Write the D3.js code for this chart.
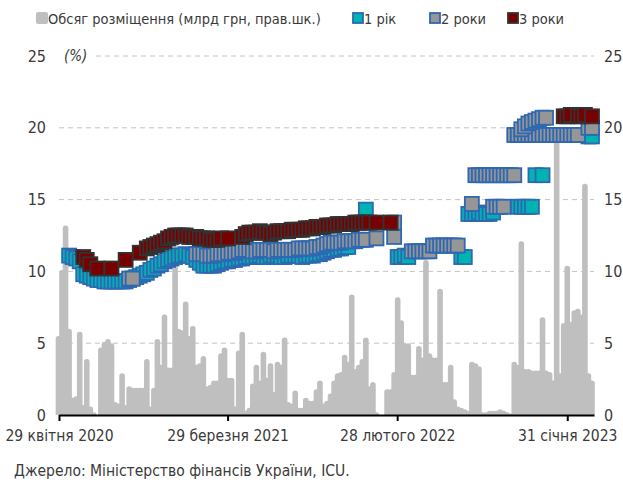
<!DOCTYPE html>
<html>
<head>
<meta charset="utf-8">
<script src="https://cdn.jsdelivr.net/npm/d3@7"></script>
<style>
  body { margin: 0; background: #fff; }
  text { font-family: "Liberation Sans Narrow", "Arial Narrow", "DejaVu Sans Condensed", sans-serif; fill: #3a3a3a; }
</style>
</head>
<body>
<svg id="chart" width="623" height="482"></svg>
<script>
// auctions are weekly (Tuesdays); week 0 = 28 Apr 2020
var firstAuction = new Date(2020, 3, 28)

var xTickDates = ["2020-04-29", "2021-03-29", "2022-02-28", "2023-01-31"]
var xTickLabels = ["29 квітня 2020", "29 березня 2021", "28 лютого 2022", "31 січня 2023"]
var yTicks = [0, 5, 10, 15, 20, 25]

// placement volume, bn UAH (right axis), one value per week, null = no bar
var volume = [
  5.5, 10.1, 13.2, 6.0, 1.2, 1.3, 5.8, 0.7, 3.9, 0.6,
  0.2, null, 4.7, 5.1, 5.3, 5.0, 0.9, 0.8, 2.9, 0.7,
  2.0, 1.9, 1.9, 1.9, 1.9, 3.9, 0.6, 1.9, 5.3, 3.5,
  7.0, 3.3, 3.3, 12.3, 6.0, 5.9, 7.9, 5.5, 6.2, 3.5,
  3.6, 4.1, 2.0, 2.1, 2.4, 2.4, 4.3, 4.7, 2.6, 2.6,
  0.6, 4.5, 5.8, 0.3, 0.5, 2.2, 3.5, 2.4, 4.4, 2.6,
  3.6, 1.6, 3.7, 3.5, 5.4, 0.9, 0.8, 1.7, 0.5, 0.5,
  1.2, 1.0, 1.0, 1.8, 2.4, 0.8, 1.0, 1.5, 2.4, 2.9,
  3.0, 4.2, 3.7, 8.4, 3.2, 3.5, 3.9, 5.4, 2.0, 2.3,
  0.2, null, null, 1.8, 1.8, 3.0, 8.2, 6.6, 5.0, 5.0,
  2.8, 2.8, 4.8, 4.0, 10.8, 4.3, 4.0, 4.0, 8.8, 2.3,
  2.3, 3.5, 1.1, 0.6, 0.5, 0.4, 0.3, 3.7, 3.6, 3.4,
  0.2, 0.2, 0.3, 0.3, 0.3, 0.4, 0.3, 0.2, 0.1, 3.7,
  3.5, 12.1, 3.2, 3.2, 3.1, 3.1, 3.1, 6.8, 3.1, 3.0,
  2.4, 19.8, 2.9, 6.4, 10.4, 6.5, 7.3, 7.4, 7.0, 16.1,
  2.9, 2.4
]

// yields, % (left axis)
var oneYearWeek = [
  3, 4, 5, 6, 7, 8, 9, 10, 11, 12, 13, 14, 15, 16, 17, 18, 19,
  20, 21, 22, 23, 24, 25, 26, 27, 28, 29, 30, 31, 32,
  33, 34, 35, 36, 37, 38, 39, 40, 41, 42, 43, 44, 45, 46, 47, 48, 49, 50, 51, 52,
  53, 54, 55, 56, 57, 58, 59, 60, 61, 62, 63, 64, 65, 66, 67, 68, 69, 70, 71, 72, 73, 74,
  75, 76, 77, 78, 79, 80, 81, 82,
  87, 96, 97, 98, 99, 114, 115,
  116, 117, 118, 119, 120, 121, 122, 123,
  130, 131, 132, 133, 134, 135, 137, 150, 151
]
var oneYearYield = [
  11.1, 11.0, 10.9, 10.7, 9.8, 9.7, 9.6, 9.5, 9.4, 9.4, 9.3, 9.3, 9.3, 9.3, 9.3, 9.3, 9.3,
  9.4, 9.5, 9.6, 9.7, 9.8, 9.9, 10.1, 10.2, 10.4, 10.5, 10.7, 10.8, 10.9,
  11.0, 11.1, 11.1, 11.2, 11.1, 11.0, 10.8, 10.6, 10.4, 10.4, 10.4, 10.4, 10.5, 10.6, 10.7, 10.7, 10.8, 10.8, 10.9, 10.9,
  11.0, 11.0, 11.0, 11.1, 11.1, 11.0, 11.0, 11.1, 11.1, 11.1, 11.0, 11.0, 11.1, 11.1, 11.1, 11.1, 11.0, 11.1, 11.1, 11.1, 11.2, 11.2,
  11.3, 11.4, 11.5, 11.5, 11.6, 11.6, 11.7, 11.7,
  14.3, 11.0, 11.0, 11.1, 11.0, 11.0, 11.0,
  14.0, 14.0, 14.0, 14.1, 14.0, 14.0, 14.0, 14.1,
  14.5, 14.5, 14.5, 14.5, 14.5, 16.7, 16.7, 19.4, 19.4
]

var twoYearWeek = [
  20, 21,
  39, 40, 41, 42, 43, 44, 45, 46, 47, 48, 49, 50,
  51, 52, 53, 54, 55, 56, 57, 58, 59, 60, 61, 62, 63, 64, 65, 66, 67, 68, 69, 70, 71, 72, 73, 74, 75,
  76, 77, 78, 79, 80, 81, 82, 83, 84, 85, 86, 87, 90, 95, 95,
  100, 101, 102, 103, 104, 105, 106, 107, 108, 109, 110, 111, 112, 113,
  117, 118, 119, 120, 121, 122, 123, 124, 125, 126, 127, 128, 129,
  123, 124, 125, 126,
  129, 130, 131, 132, 133, 134, 135, 136, 137, 138, 139, 140, 141, 142, 143, 144, 145, 146, 147,
  131, 132, 133, 134, 135, 136, 137, 138, 150, 151
]
var twoYearYield = [
  9.5, 9.5,
  11.2, 11.2, 11.2, 11.1, 11.1, 11.1, 11.2, 11.2, 11.2, 11.3, 11.3, 11.3,
  11.4, 11.5, 11.5, 11.5, 11.4, 11.4, 11.5, 11.5, 11.5, 11.5, 11.4, 11.5, 11.5, 11.5, 11.5, 11.5, 11.5, 11.6, 11.6, 11.6, 11.6, 11.6, 11.7, 11.7, 11.8,
  11.9, 12.0, 12.0, 12.0, 12.0, 12.1, 12.1, 12.1, 12.1, 12.2, 12.2, 12.2, 12.3, 12.4, 13.4,
  11.4, 11.4, 11.4, 11.4, 11.4, 11.4, 11.8, 11.8, 11.8, 11.8, 11.8, 11.8, 11.8, 11.8,
  14.7, 16.7, 16.7, 16.7, 16.7, 16.7, 16.7, 16.7, 16.7, 16.7, 16.7, 16.7, 16.7,
  14.5, 14.5, 14.5, 14.5,
  19.5, 19.5, 19.5, 19.5, 19.5, 19.5, 19.5, 19.5, 19.5, 19.5, 19.5, 19.5, 19.5, 19.5, 19.5, 19.5, 19.5, 19.5, 19.5,
  19.9, 20.1, 20.3, 20.4, 20.5, 20.6, 20.7, 20.7, 20.0, 20.0
]

var threeYearWeek = [
  7, 8, 9, 11, 15, 19, 23,
  25, 26, 27, 28, 29, 30, 31, 32, 33, 34, 35, 36, 37, 38, 39, 40, 41, 42, 43, 44, 45, 46, 48, 52,
  53, 54, 55, 56, 57, 58, 59, 60, 61, 62, 63, 64, 65, 66, 67, 68,
  69, 70, 71, 72, 73, 74, 75, 76, 77, 78, 79, 80, 81, 82, 83, 84, 85, 86, 87, 88, 90, 94,
  143, 144, 145, 147, 148, 149, 151
]
var threeYearYield = [
  11.0, 10.8, 10.5, 10.2, 10.2, 10.8, 11.3,
  11.6, 11.7, 11.8, 11.9, 12.0, 12.1, 12.3, 12.4, 12.5, 12.5, 12.5, 12.5, 12.4, 12.4, 12.4, 12.3, 12.3, 12.3, 12.2, 12.2, 12.2, 12.3, 12.3, 12.4,
  12.6, 12.7, 12.7, 12.7, 12.8, 12.7, 12.7, 12.6, 12.7, 12.8, 12.8, 12.8, 12.8, 12.9, 12.9, 12.9,
  12.9, 13.0, 13.0, 13.0, 13.1, 13.1, 13.1, 13.2, 13.2, 13.2, 13.3, 13.3, 13.3, 13.3, 13.3, 13.4, 13.4, 13.4, 13.4, 13.4, 13.4, 13.4,
  20.8, 20.8, 20.9, 20.8, 20.8, 20.9, 20.8
]

var legendLabels = ["Обсяг розміщення (млрд грн, прав.шк.)", "1 рік", "2 роки", "3 роки"]

var weekDate = function(w) { return d3.timeDay.offset(firstAuction, 7 * w) }
var parse = d3.timeParse("%Y-%m-%d")

var svg = d3.select("#chart")
var plotLeft = 59, plotRight = 594, plotTop = 56, plotBottom = 415

var x = d3.scaleTime()
  .domain([parse("2020-04-29"), parse("2023-03-25")])
  .range([plotLeft, plotRight])
var y = d3.scaleLinear().domain([0, 25]).range([plotBottom, plotTop])
var y2 = d3.scaleLinear().domain([0, 25]).range([plotBottom, plotTop])

// gridlines
svg.append("g").selectAll("line")
  .data(yTicks.slice(1))
  .enter().append("line")
  .attr("x1", function(d) { return d == 25 ? 96 : plotLeft })
  .attr("x2", plotRight)
  .attr("y1", function(d) { return y(d) })
  .attr("y2", function(d) { return y(d) })
  .attr("stroke", "#c4c4c4")
  .attr("stroke-width", 1)
  .attr("stroke-dasharray", "5,4")

// volume bars with rounded tops
svg.append("clipPath").attr("id", "plotclip")
  .append("rect").attr("x", 0).attr("y", 0).attr("width", 623).attr("height", plotBottom)

var bars = volume.map(function(v, i) { return { date: weekDate(i), v: v } })
  .filter(function(d) { return d.v != null })

var bw = 5.6
svg.append("g").attr("clip-path", "url(#plotclip)")
  .selectAll("line")
  .data(bars)
  .enter().append("line")
  .attr("x1", function(d) { return x(d.date) })
  .attr("x2", function(d) { return x(d.date) })
  .attr("y1", plotBottom + 4)
  .attr("y2", function(d) { return Math.min(y2(d.v) + bw / 2, plotBottom + 2) })
  .attr("stroke", "#bfbfbf")
  .attr("stroke-width", bw)
  .attr("stroke-linecap", "round")

// yield markers
var series = [
  { weeks: oneYearWeek, vals: oneYearYield, fill: "#00b3b3", stroke: "#2e68b2" },
  { weeks: twoYearWeek, vals: twoYearYield, fill: "#969696", stroke: "#2e68b2" },
  { weeks: threeYearWeek, vals: threeYearYield, fill: "#790000", stroke: "#333333" }
]
var ms = 14

series.forEach(function(s) {
  var pts = s.weeks.map(function(w, i) { return { date: weekDate(w), v: s.vals[i] } })
  svg.append("g").selectAll("rect")
    .data(pts)
    .enter().append("rect")
    .attr("x", function(d) { return x(d.date) - ms / 2 })
    .attr("y", function(d) { return y(d.v) - ms / 2 })
    .attr("width", ms)
    .attr("height", ms)
    .attr("fill", s.fill)
    .attr("stroke", s.stroke)
    .attr("stroke-width", 1.8)
})

// x axis
var xAxis = d3.axisBottom(x)
  .tickValues(xTickDates.map(parse))
  .tickFormat(function(d, i) { return xTickLabels[i] })
  .tickSizeInner(6)
  .tickSizeOuter(0)
  .tickPadding(9)

var gx = svg.append("g").attr("transform", "translate(0," + plotBottom + ")").call(xAxis)
gx.select(".domain").attr("stroke", "#000").attr("stroke-width", 2)
gx.selectAll(".tick line").attr("stroke", "#000").attr("stroke-width", 2)
gx.selectAll("text").style("font-size", "15.5px")

// y axes (text only)
var gl = svg.append("g").attr("transform", "translate(" + plotLeft + ",0)")
  .call(d3.axisLeft(y).tickValues(yTicks).tickSize(0).tickPadding(13))
var gr = svg.append("g").attr("transform", "translate(" + plotRight + ",0)")
  .call(d3.axisRight(y2).tickValues(yTicks).tickSize(0).tickPadding(10))
;[gl, gr].forEach(function(g) {
  g.select(".domain").remove()
  g.selectAll("text").style("font-size", "16px")
})

svg.append("text")
  .attr("x", 64).attr("y", y(25) + 5)
  .style("font-size", "15px").style("font-style", "italic")
  .text("(%)")

// legend
var legend = [
  { x: 36, fill: "#bfbfbf", stroke: "none", label: legendLabels[0] },
  { x: 352, fill: "#00b3b3", stroke: "#2e68b2", label: legendLabels[1] },
  { x: 429, fill: "#969696", stroke: "#2e68b2", label: legendLabels[2] },
  { x: 507, fill: "#790000", stroke: "#333333", label: legendLabels[3] }
]
var lg = svg.append("g").selectAll("g").data(legend).enter().append("g")
  .attr("transform", function(d) { return "translate(" + d.x + ",0)" })
lg.append("rect")
  .attr("x", function(d) { return d.stroke == "none" ? 0 : 1 })
  .attr("y", function(d) { return d.stroke == "none" ? 12 : 13 })
  .attr("width", function(d) { return d.stroke == "none" ? 12 : 10 })
  .attr("height", function(d) { return d.stroke == "none" ? 12 : 10 })
  .attr("rx", function(d) { return d.stroke == "none" ? 2 : 0 })
  .attr("fill", function(d) { return d.fill })
  .attr("stroke", function(d) { return d.stroke })
  .attr("stroke-width", 1.8)
lg.append("text")
  .attr("x", 12).attr("y", 24)
  .style("font-size", "14.5px")
  .text(function(d) { return d.label })

svg.append("text")
  .attr("x", 14).attr("y", 476)
  .style("font-size", "15.5px")
  .text("Джерело: Міністерство фінансів України, ICU.")
</script>
</body>
</html>
